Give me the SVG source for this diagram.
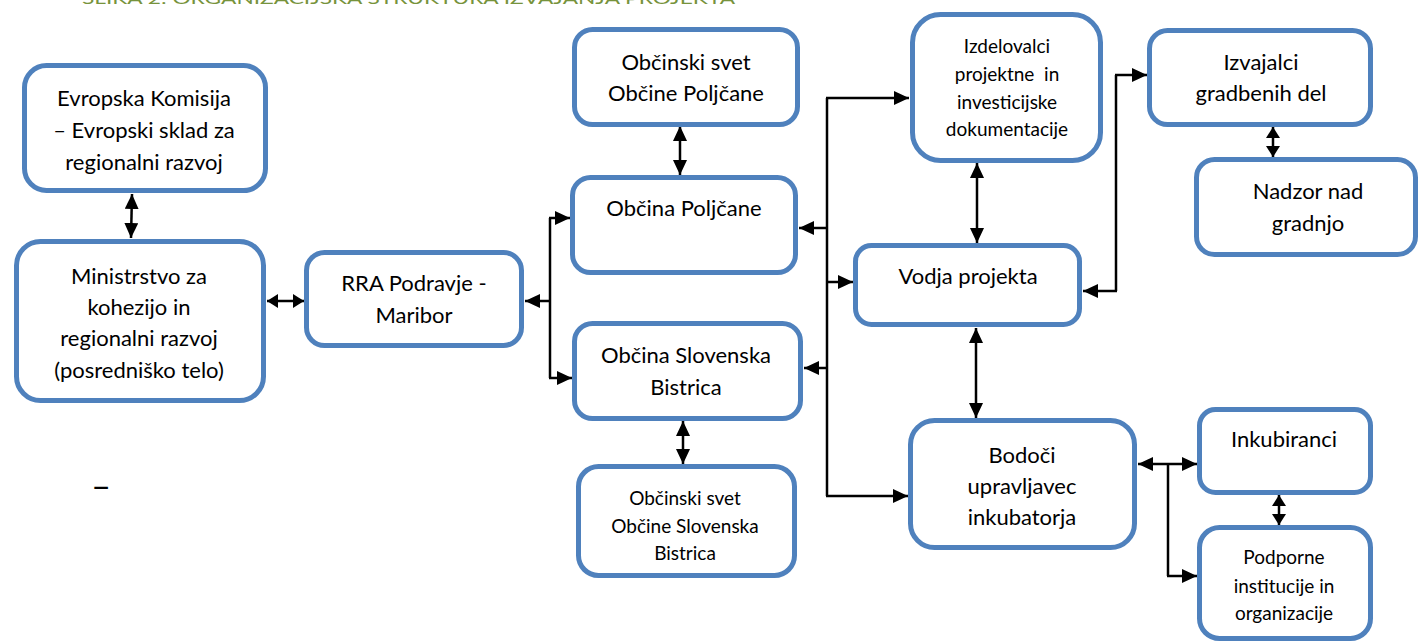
<svg xmlns="http://www.w3.org/2000/svg" width="1418" height="642" viewBox="0 0 1418 642">
<defs>
<marker id="ah" markerUnits="userSpaceOnUse" markerWidth="17" markerHeight="15" refX="15" refY="7" orient="auto-start-reverse">
<path d="M0,0 L15,7 L0,14 z" fill="#000"/>
</marker>
<marker id="ahs" markerUnits="userSpaceOnUse" markerWidth="13" markerHeight="15" refX="11" refY="7" orient="auto-start-reverse">
<path d="M0,0 L11,7 L0,14 z" fill="#000"/>
</marker>
<style>
.box{fill:#fff;stroke:#4F81BD;stroke-width:5}
.t{font-family:Lato,"Open Sans","Liberation Sans",sans-serif;font-size:22px;fill:#000;text-anchor:middle}
.s{font-size:19px}
.c{fill:none;stroke:#000;stroke-width:2.5}
.a{marker-end:url(#ah)}
.b{marker-start:url(#ah);marker-end:url(#ah)}
.bs{marker-start:url(#ahs);marker-end:url(#ahs)}
</style>
</defs>
<rect width="1418" height="642" fill="#fff"/>
<text x="82" y="4" font-family="Lato,'Liberation Sans',sans-serif" font-size="15" fill="#77933C" textLength="653" lengthAdjust="spacingAndGlyphs">SLIKA 2: ORGANIZACIJSKA STRUKTURA IZVAJANJA PROJEKTA</text>

<g id="connectors">
<line class="c b" x1="132" y1="194" x2="131" y2="238"/>
<line class="c bs" x1="267" y1="301" x2="304" y2="301"/>
<line class="c" x1="550" y1="218" x2="550" y2="378"/>
<line class="c a" x1="550" y1="301" x2="525" y2="301"/>
<line class="c a" x1="549" y1="218" x2="570" y2="218"/>
<line class="c a" x1="549" y1="378" x2="572" y2="378"/>
<line class="c b" x1="680" y1="126" x2="680" y2="175"/>
<line class="c b" x1="683" y1="421" x2="683" y2="464"/>
<line class="c" x1="827" y1="98" x2="827" y2="496"/>
<line class="c a" x1="826" y1="98" x2="909" y2="98"/>
<line class="c a" x1="828" y1="228" x2="799" y2="228"/>
<line class="c a" x1="826" y1="282" x2="853" y2="282"/>
<line class="c a" x1="828" y1="368" x2="804" y2="368"/>
<line class="c a" x1="826" y1="496" x2="908" y2="496"/>
<line class="c b" x1="977" y1="163" x2="977" y2="243"/>
<line class="c" x1="1116" y1="75" x2="1116" y2="291"/>
<line class="c a" x1="1115" y1="75" x2="1147" y2="75"/>
<line class="c a" x1="1117" y1="291" x2="1083" y2="291"/>
<line class="c bs" x1="1273" y1="127" x2="1273" y2="157"/>
<line class="c b" x1="976" y1="328" x2="976" y2="418"/>
<line class="c b" x1="1138" y1="464" x2="1197" y2="464"/>
<line class="c" x1="1168" y1="464" x2="1168" y2="576"/>
<line class="c a" x1="1167" y1="576" x2="1197" y2="576"/>
<line class="c bs" x1="1279" y1="495" x2="1279" y2="525"/>
</g>

<g id="evropska">
<rect class="box" x="24.5" y="65.5" width="241" height="125" rx="22"/>
<text class="t" x="144" y="106">Evropska Komisija</text>
<text class="t" x="144" y="138">– Evropski sklad za</text>
<text class="t" x="144" y="170">regionalni razvoj</text>
</g>
<g id="ministrstvo">
<rect class="box" x="16.5" y="241.5" width="247" height="159" rx="24"/>
<text class="t" x="139" y="284">Ministrstvo za</text>
<text class="t" x="139" y="315">kohezijo in</text>
<text class="t" x="139" y="346">regionalni razvoj</text>
<text class="t" x="139" y="378">(posredniško telo)</text>
</g>
<g id="rra">
<rect class="box" x="306.5" y="252.5" width="215" height="93" rx="18"/>
<text class="t" x="414" y="291">RRA Podravje -</text>
<text class="t" x="414" y="323">Maribor</text>
</g>
<g id="svet-poljcane">
<rect class="box" x="574.5" y="29.5" width="223" height="95" rx="18"/>
<text class="t" x="686" y="70">Občinski svet</text>
<text class="t" x="686" y="101">Občine Poljčane</text>
</g>
<g id="obcina-poljcane">
<rect class="box" x="572.5" y="177.5" width="223" height="95" rx="18"/>
<text class="t" x="684" y="216">Občina Poljčane</text>
</g>
<g id="obcina-sb">
<rect class="box" x="574.5" y="323.5" width="226" height="95" rx="18"/>
<text class="t" x="686" y="363">Občina Slovenska</text>
<text class="t" x="686" y="395">Bistrica</text>
</g>
<g id="svet-sb">
<rect class="box" x="578.5" y="466.5" width="216" height="109" rx="20"/>
<text class="t s" x="685" y="505">Občinski svet</text>
<text class="t s" x="685" y="533">Občine Slovenska</text>
<text class="t s" x="685" y="560">Bistrica</text>
</g>
<g id="izdelovalci">
<rect class="box" x="912.5" y="14.5" width="188" height="146" rx="28"/>
<text class="t s" x="1007" y="53">Izdelovalci</text>
<text class="t s" x="1007" y="81" xml:space="preserve">projektne  in</text>
<text class="t s" x="1007" y="109">investicijske</text>
<text class="t s" x="1007" y="136">dokumentacije</text>
</g>
<g id="vodja">
<rect class="box" x="855.5" y="245.5" width="224" height="79" rx="16"/>
<text class="t" x="968" y="284">Vodja projekta</text>
</g>
<g id="izvajalci">
<rect class="box" x="1149.5" y="30.5" width="221" height="94" rx="18"/>
<text class="t" x="1261" y="70">Izvajalci</text>
<text class="t" x="1261" y="101">gradbenih del</text>
</g>
<g id="nadzor">
<rect class="box" x="1196.5" y="159.5" width="219" height="95" rx="18"/>
<text class="t" x="1308" y="199">Nadzor nad</text>
<text class="t" x="1308" y="231">gradnjo</text>
</g>
<g id="bodoci">
<rect class="box" x="910.5" y="420.5" width="224" height="127" rx="24"/>
<text class="t" x="1022" y="463">Bodoči</text>
<text class="t" x="1022" y="494">upravljavec</text>
<text class="t" x="1022" y="525">inkubatorja</text>
</g>
<g id="inkubiranci">
<rect class="box" x="1199.5" y="409.5" width="171" height="83" rx="16"/>
<text class="t" x="1284" y="447">Inkubiranci</text>
</g>
<g id="podporne">
<rect class="box" x="1199.5" y="527.5" width="171" height="111" rx="20"/>
<text class="t s" x="1284" y="564">Podporne</text>
<text class="t s" x="1284" y="593">institucije in</text>
<text class="t s" x="1284" y="620">organizacije</text>
</g>
<text class="t" x="101" y="498" style="font-size:34px">–</text>
</svg>
